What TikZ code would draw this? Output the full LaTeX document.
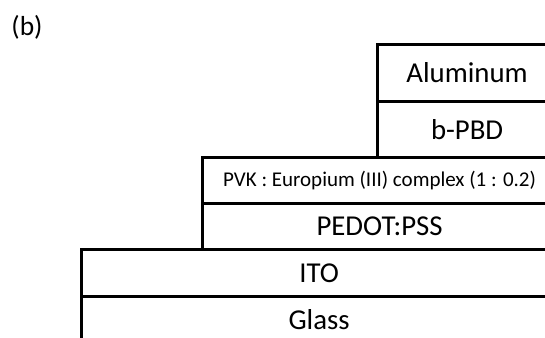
\documentclass[tikz,border=0pt]{standalone}
\usepackage{fontspec}
\setmainfont{Carlito}
\begin{document}
\begin{tikzpicture}[
  layer/.style={draw, line width=3.2pt, rectangle, inner sep=0pt, anchor=north west, font=\fontsize{28.8}{32}\selectfont},
]
\useasboundingbox (0pt,0pt) rectangle (545pt,-337pt);
\clip (0pt,0pt) rectangle (545pt,-337pt);
\node[layer, minimum width=475pt, minimum height=47pt] (glass) at (80pt,-295pt) {Glass};
\node[layer, minimum width=475pt, minimum height=47pt] (ito) at (80pt,-248pt) {ITO};
\node[layer, minimum width=354pt, minimum height=46pt] (pedot) at (201pt,-202pt) {PEDOT:PSS};
\node[layer, minimum width=354pt, minimum height=46pt, font=\fontsize{21}{24}\selectfont] (pvk) at (201pt,-156pt) {PVK : Europium (III) complex (1 : 0.2)};
\node[layer, minimum width=179pt, minimum height=56pt] (pbd) at (376pt,-100pt) {b-PBD};
\node[layer, minimum width=179pt, minimum height=57pt] (al) at (376pt,-43pt) {Aluminum};
\node[font=\fontsize{27.5}{30}\selectfont] (lbl) at (27pt,-27pt) {(b)};
\end{tikzpicture}
\end{document}
